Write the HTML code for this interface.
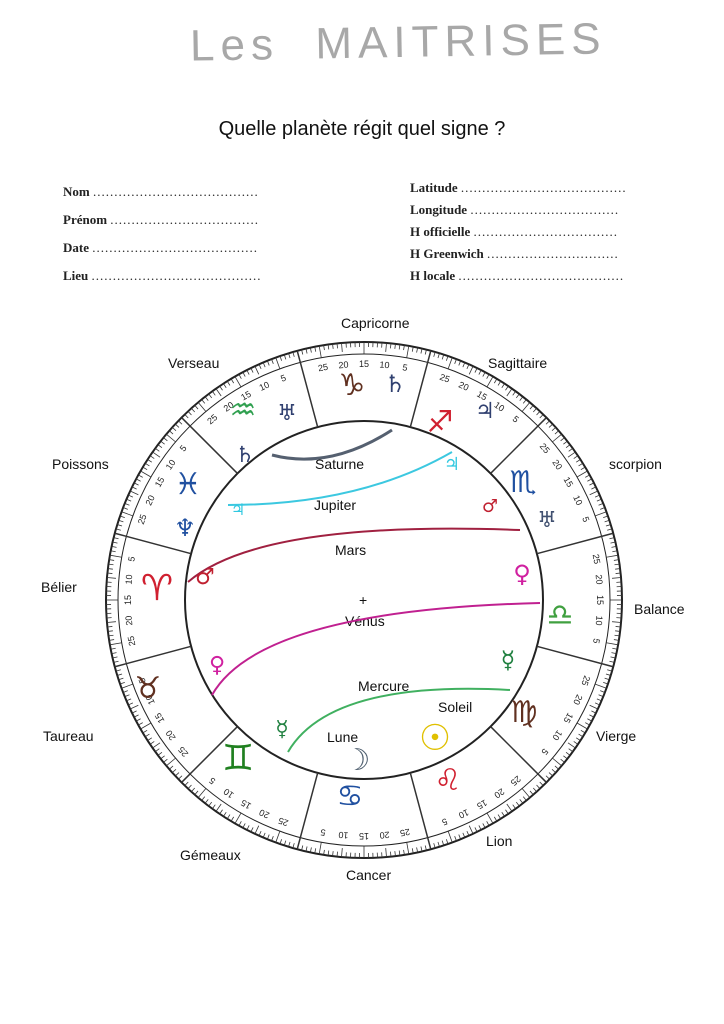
<!DOCTYPE html>
<html><head><meta charset="utf-8"><style>
html,body{margin:0;padding:0;background:#fff;}
body{width:724px;height:1024px;position:relative;overflow:hidden;font-family:"Liberation Sans",sans-serif;}
.f{position:absolute;font-family:"Liberation Serif",serif;font-weight:bold;font-size:13px;color:#222;}
.f span{font-weight:normal;letter-spacing:1px;}
.g text{font-family:"DejaVu Sans",sans-serif;}
</style></head><body>
<div style="position:absolute;left:190px;top:18px;font-family:'Liberation Sans',sans-serif;font-size:44px;color:#a8a8a8;letter-spacing:6px;transform:rotate(-1deg)">Les&nbsp;&nbsp;MAITRISES</div>
<div style="position:absolute;left:0;width:724px;top:118px;text-align:center;font-size:20px;color:#111">Quelle planète régit quel signe ?</div>
<div class="f" style="left:63px;top:184px">Nom <span>.......................................</span></div>
<div class="f" style="left:63px;top:212px">Prénom <span>...................................</span></div>
<div class="f" style="left:63px;top:240px">Date <span>.......................................</span></div>
<div class="f" style="left:63px;top:268px">Lieu <span>........................................</span></div>
<div class="f" style="left:410px;top:180px">Latitude <span>.......................................</span></div>
<div class="f" style="left:410px;top:202px">Longitude <span>...................................</span></div>
<div class="f" style="left:410px;top:224px">H officielle <span>..................................</span></div>
<div class="f" style="left:410px;top:246px">H Greenwich <span>...............................</span></div>
<div class="f" style="left:410px;top:268px">H locale <span>.......................................</span></div>

<svg id="w" width="724" height="1024" style="position:absolute;left:0;top:0" font-family="Liberation Sans, sans-serif">
<g font-size="14" fill="#111">
<text x="341" y="328">Capricorne</text>
<text x="168" y="368">Verseau</text>
<text x="488" y="368">Sagittaire</text>
<text x="52" y="469">Poissons</text>
<text x="609" y="469">scorpion</text>
<text x="41" y="592">Bélier</text>
<text x="634" y="614">Balance</text>
<text x="43" y="741">Taureau</text>
<text x="596" y="741">Vierge</text>
<text x="180" y="860">Gémeaux</text>
<text x="486" y="846">Lion</text>
<text x="346" y="880">Cancer</text>
<text x="315" y="469">Saturne</text>
<text x="314" y="510">Jupiter</text>
<text x="335" y="555">Mars</text>
<text x="345" y="626">Vénus</text>
<text x="358" y="691">Mercure</text>
<text x="438" y="712">Soleil</text>
<text x="327" y="742">Lune</text>
<text x="359" y="605">+</text>
</g>
<circle cx="364" cy="600" r="258" fill="none" stroke="#222" stroke-width="2"/>
<circle cx="364" cy="600" r="246" fill="none" stroke="#222" stroke-width="1"/>
<circle cx="364" cy="600" r="179" fill="none" stroke="#222" stroke-width="2"/>
<g id="ticks" stroke="#333" stroke-width="0.8"></g>
<g id="nums" font-size="9" fill="#222" text-anchor="middle"></g>
<g fill="none" stroke-width="2">
<path d="M272 455 Q330 470 392 430" stroke="#556070" stroke-width="3"/>
<path d="M228 505 Q360 505 452 452" stroke="#3cc8e0"/>
<path d="M188 582 Q260 520 520 530" stroke="#a02040"/>
<path d="M212 695 Q260 610 540 603" stroke="#c02090"/>
<path d="M288 752 Q330 680 510 690" stroke="#40b060"/>
</g>
<g class="g" font-size="30" text-anchor="middle">
<text x="352" y="395" fill="#603020">♑&#xFE0E;</text><text x="395" y="392" fill="#304070" font-size="24">♄&#xFE0E;</text>
<text x="243" y="420" fill="#30a050">♒&#xFE0E;</text><text x="287" y="420" fill="#304070" font-size="22">♅&#xFE0E;</text>
<text x="245" y="462" fill="#304070" font-size="22">♄&#xFE0E;</text>
<text x="440" y="432" fill="#d02030">♐&#xFE0E;</text><text x="485" y="418" fill="#304070" font-size="22">♃&#xFE0E;</text>
<text x="452" y="470" fill="#30c8e0" font-size="18">♃&#xFE0E;</text>
<text x="523" y="492" fill="#2050a0">♏&#xFE0E;</text><text x="490" y="512" fill="#c02030" font-size="18">♂&#xFE0E;</text>
<text x="547" y="527" fill="#405070" font-size="22">♅&#xFE0E;</text>
<text x="188" y="494" fill="#2050a0">♓&#xFE0E;</text><text x="185" y="536" fill="#2050a0" font-size="24">♆&#xFE0E;</text>
<text x="238" y="515" fill="#30c8e0" font-size="16">♃&#xFE0E;</text>
<text x="157" y="600" fill="#d02030" font-size="36">♈&#xFE0E;</text><text x="205" y="584" fill="#c02030" font-size="22">♂&#xFE0E;</text>
<text x="522" y="582" fill="#d020a0" font-size="24">♀&#xFE0E;</text>
<text x="560" y="625" fill="#40a040">♎&#xFE0E;</text>
<text x="148" y="698" fill="#603020">♉&#xFE0E;</text><text x="217" y="672" fill="#d020a0" font-size="22">♀&#xFE0E;</text>
<text x="508" y="668" fill="#208040" font-size="24">☿&#xFE0E;</text>
<text x="524" y="722" fill="#603020">♍&#xFE0E;</text>
<text x="282" y="736" fill="#208040" font-size="22">☿&#xFE0E;</text>
<text x="238" y="770" fill="#208020" font-size="36">♊&#xFE0E;</text>
<text x="435" y="750" fill="#e0c000" font-size="36">☉&#xFE0E;</text>
<text x="357" y="770" fill="#506070" font-size="30">☽&#xFE0E;</text>
<text x="350" y="806" fill="#2050a0">♋&#xFE0E;</text>
<text x="448" y="790" fill="#d02030">♌&#xFE0E;</text>
</g>
</svg>
<script>
var cx=364,cy=600,ns="http://www.w3.org/2000/svg";
var t=document.getElementById('ticks'),n=document.getElementById('nums');
function ln(a,r1,r2,w){var e=document.createElementNS(ns,'line'),c=Math.cos(a),s=Math.sin(a);
e.setAttribute('x1',cx+r1*c);e.setAttribute('y1',cy-r1*s);e.setAttribute('x2',cx+r2*c);e.setAttribute('y2',cy-r2*s);if(w)e.setAttribute('stroke-width',w);t.appendChild(e);}
for(var d=0;d<360;d++){var a=d*Math.PI/180;var L=(d%5==0)?(d%10==0?12:9):5;ln(a,258-L,258);}
for(var k=0;k<12;k++){var a=(75+k*30)*Math.PI/180;ln(a,179,258,1.5);
 for(var j=0;j<5;j++){var deg=75+k*30+(j+1)*5;var b=deg*Math.PI/180;
 var e=document.createElementNS(ns,'text');var r=236;var x=cx+r*Math.cos(b),y=cy-r*Math.sin(b);
 e.setAttribute('x',x);e.setAttribute('y',y+3);e.setAttribute('transform','rotate('+(90-deg)+' '+x+' '+y+')');e.textContent=((j+1)*5);n.appendChild(e);}}
</script>
</body></html>
